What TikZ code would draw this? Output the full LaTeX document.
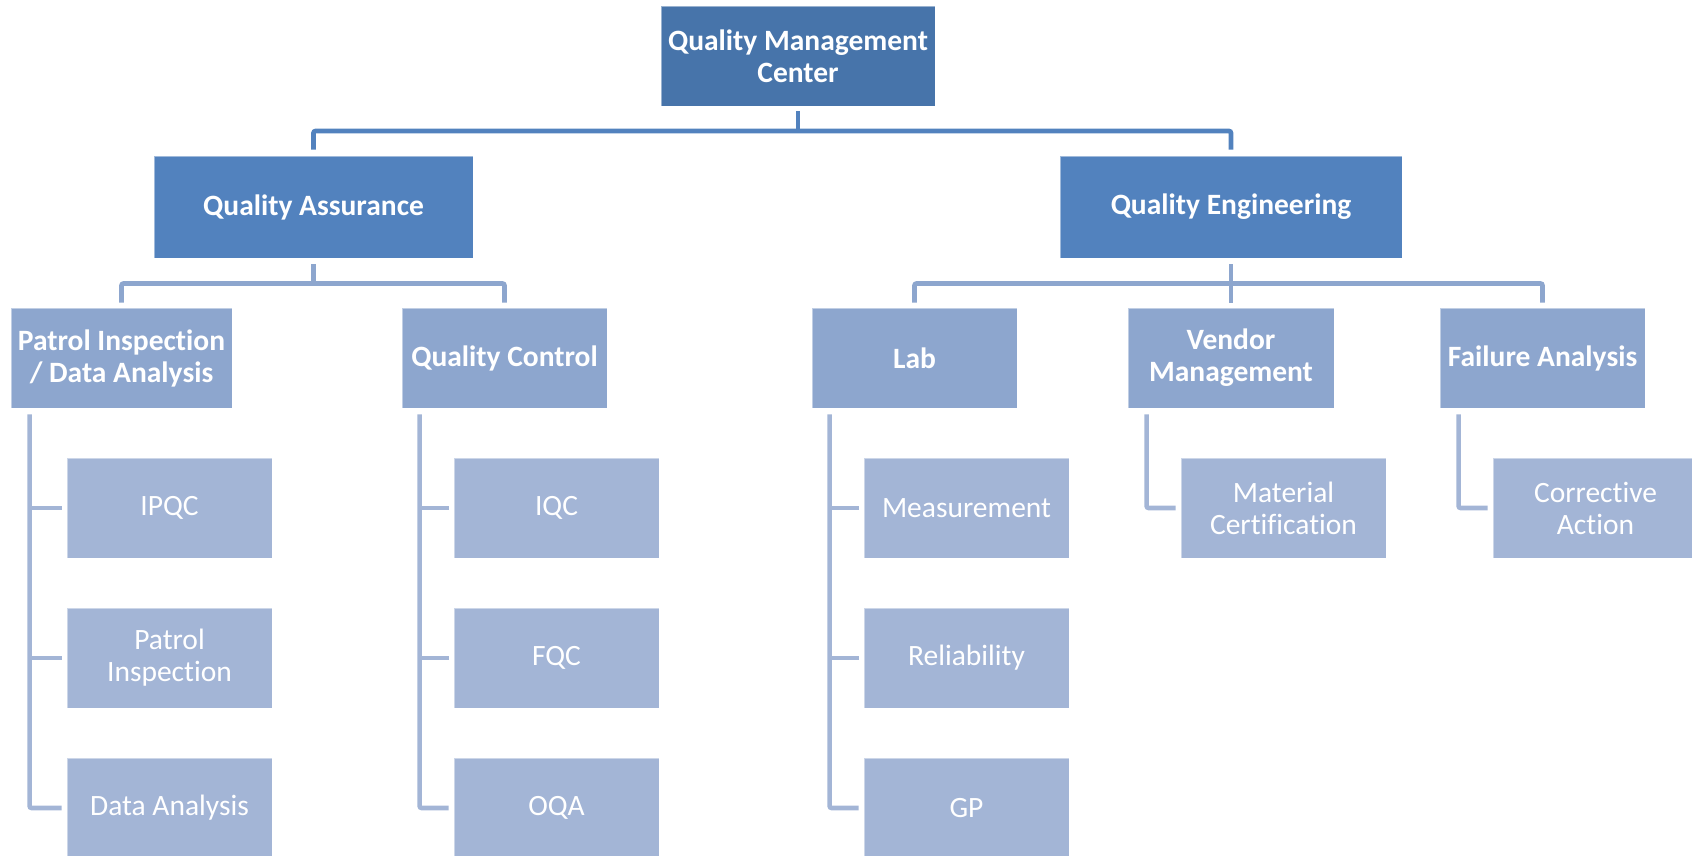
\documentclass[tikz,border=0pt]{standalone}
\usepackage{fontspec}
\setmainfont{Carlito}[Ligatures=NoCommon]
\definecolor{cA}{RGB}{71,116,170}
\definecolor{cB}{RGB}{82,130,190}
\definecolor{cC}{RGB}{141,166,206}
\definecolor{cD}{RGB}{163,181,214}
\begin{document}
\begin{tikzpicture}[x=1pt,y=-1pt,
  base/.style={rectangle, inner sep=0pt, align=center, text=white,
    draw=white, draw opacity=0.45, line width=0.8pt,
    font=\fontsize{29.5}{32}\selectfont},
  lone/.style={base, fill=cA, font=\fontsize{29.5}{32}\selectfont\bfseries},
  ltwo/.style={base, fill=cB, font=\fontsize{29.5}{32}\selectfont\bfseries},
  lthree/.style={base, fill=cC, font=\fontsize{29.5}{32}\selectfont\bfseries},
  lfour/.style={base, fill=cD},
  conA/.style={draw=cB, line width=4.6pt, rounded corners=2pt},
  conB/.style={draw=cC, line width=4.6pt, rounded corners=2pt},
  conC/.style={draw=cD, line width=4.6pt, rounded corners=2pt}]
\useasboundingbox (0,0) rectangle (1692,856);
\clip (0,0) rectangle (1692,856);
% level 1
\node[lone, minimum width=274pt, minimum height=100pt] (qmc) at (798,56) {Quality Management\\Center};
% level 2
\node[ltwo, minimum width=319pt, minimum height=102pt] (qa) at (313.5,207) {Quality Assurance};
\node[ltwo, minimum width=342pt, minimum height=102pt] (qe) at (1231,207) {Quality Engineering};
% level 3
\node[lthree, minimum width=221pt, minimum height=100pt] (pida) at (121.5,358) {Patrol Inspection\\/ Data Analysis};
\node[lthree, minimum width=205pt, minimum height=100pt] (qc) at (504.5,358) {Quality Control};
\node[lthree, minimum width=205pt, minimum height=100pt] (lab) at (914.5,358) {Lab};
\node[lthree, minimum width=206pt, minimum height=100pt] (vm) at (1231,358) {Vendor\\Management};
\node[lthree, minimum width=205pt, minimum height=100pt] (fa) at (1542.5,358) {Failure Analysis};
% level 4
\node[lfour, minimum width=205pt, minimum height=100pt] (ipqc) at (169.5,508) {IPQC};
\node[lfour, minimum width=205pt, minimum height=100pt] (pi) at (169.5,658) {Patrol\\Inspection};
\node[lfour, minimum width=205pt, minimum height=100pt] (da) at (169.5,808) {Data Analysis};
\node[lfour, minimum width=205pt, minimum height=100pt] (iqc) at (556.5,508) {IQC};
\node[lfour, minimum width=205pt, minimum height=100pt] (fqc) at (556.5,658) {FQC};
\node[lfour, minimum width=205pt, minimum height=100pt] (oqa) at (556.5,808) {OQA};
\node[lfour, minimum width=205pt, minimum height=100pt] (meas) at (966.5,508) {Measurement};
\node[lfour, minimum width=205pt, minimum height=100pt] (rel) at (966.5,658) {Reliability};
\node[lfour, minimum width=205pt, minimum height=100pt] (gp) at (966.5,808) {GP};
\node[lfour, minimum width=205pt, minimum height=100pt] (mc) at (1283.5,508) {Material\\Certification};
\node[lfour, minimum width=205pt, minimum height=100pt] (ca) at (1595.5,508) {Corrective\\Action};
% connectors level 1 -> 2
\coordinate (jA) at (798,131);
\draw[conA] ([yshift=6pt]qa.north) |- (jA) -| ([yshift=6pt]qe.north);
\draw[conA] ([yshift=-5pt]qmc.south) -- (jA);
% connectors level 2 -> 3
\coordinate (jB) at (313.5,283.5);
\draw[conB] ([yshift=5pt]pida.north) |- (jB) -| ([yshift=5pt]qc.north);
\draw[conB] ([yshift=-6pt]qa.south) -- (jB);
\coordinate (jC) at (1231,283.5);
\draw[conB] ([yshift=5pt]lab.north) |- (jC) -| ([yshift=5pt]fa.north);
\draw[conB] ([yshift=-6pt]qe.south) -- ([yshift=5pt]vm.north);
% connectors level 3 -> 4
\coordinate (pL) at ([xshift=19pt,yshift=-6pt]pida.south west);
\coordinate (qL) at ([xshift=18pt,yshift=-6pt]qc.south west);
\coordinate (lL) at ([xshift=18pt,yshift=-6pt]lab.south west);
\coordinate (vL) at ([xshift=19pt,yshift=-6pt]vm.south west);
\coordinate (fL) at ([xshift=19pt,yshift=-6pt]fa.south west);
\draw[conC] (pL) |- ([xshift=-5pt]da.west);
\draw[conC] (pL |- ipqc.west) -- ([xshift=-5pt]ipqc.west);
\draw[conC] (pL |- pi.west) -- ([xshift=-5pt]pi.west);
\draw[conC] (qL) |- ([xshift=-5pt]oqa.west);
\draw[conC] (qL |- iqc.west) -- ([xshift=-5pt]iqc.west);
\draw[conC] (qL |- fqc.west) -- ([xshift=-5pt]fqc.west);
\draw[conC] (lL) |- ([xshift=-5pt]gp.west);
\draw[conC] (lL |- meas.west) -- ([xshift=-5pt]meas.west);
\draw[conC] (lL |- rel.west) -- ([xshift=-5pt]rel.west);
\draw[conC] (vL) |- ([xshift=-5pt]mc.west);
\draw[conC] (fL) |- ([xshift=-5pt]ca.west);
\end{tikzpicture}
\end{document}
